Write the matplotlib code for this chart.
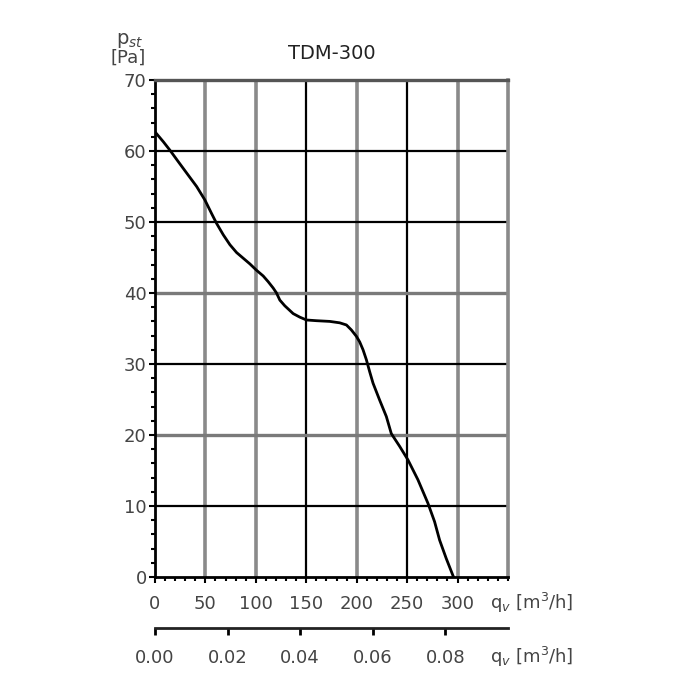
import matplotlib
matplotlib.use("Agg")
import matplotlib.pyplot as plt
from matplotlib.ticker import MultipleLocator, FixedLocator

plt.rcParams['font.family'] = ['DejaVu Sans']

title = "TDM-300"
flow_m3h = [0, 8.3, 14.9, 23.1, 31.4, 41.3, 49.5, 56.1, 61.1, 67.7, 74.3, 80.9,
            87.5, 94.1, 100.7, 107.3, 112.2, 117.2, 120.5, 123.8, 128.7, 137.0,
            143.6, 150.2, 160.1, 173.3, 183.2, 189.8, 194.7, 199.7, 203.0, 206.3,
            209.6, 212.9, 216.2, 222.8, 229.4, 234.3, 242.6, 250.8, 260.7, 270.6,
            277.2, 282.2, 288.8, 296.0]
pressure_pa = [62.7, 61.3, 60.1, 58.5, 56.9, 55.0, 53.1, 51.2, 49.8, 48.2, 46.8,
               45.7, 44.9, 44.1, 43.2, 42.4, 41.6, 40.7, 40.0, 39.0, 38.2, 37.1,
               36.6, 36.2, 36.1, 36.0, 35.8, 35.5, 34.8, 33.9, 33.1, 32.0, 30.6,
               28.9, 27.3, 24.9, 22.6, 20.2, 18.4, 16.5, 13.7, 10.4, 7.8, 5.2,
               2.6, 0.0]
x_ticks = [0, 50, 100, 150, 200, 250, 300]
y_ticks = [0, 10, 20, 30, 40, 50, 60, 70]
x2_ticks = [0.00, 0.02, 0.04, 0.06, 0.08]
x2_labels = ["0.00", "0.02", "0.04", "0.06", "0.08"]
gray_x = [50, 100, 200, 300]
gray_y = [20, 40]

txt = '#444444'
fig = plt.figure(figsize=(7, 7), dpi=100)
ax = fig.add_axes([0.2214, 0.1757, 0.5043, 0.71])
ax.set_xlim(0, 350)
ax.set_ylim(0, 70)

for xv in x_ticks[1:]:
    if xv in gray_x:
        ax.axvline(xv, color='#8a8a8a', lw=2.6, zorder=1)
    else:
        ax.axvline(xv, color='black', lw=1.6, zorder=1)
for yv in y_ticks[1:-1]:
    if yv in gray_y:
        ax.axhline(yv, color='#7a7a7a', lw=2.4, zorder=1)
    else:
        ax.axhline(yv, color='black', lw=1.6, zorder=1)

ax.plot(flow_m3h, pressure_pa, color='black', lw=2.0, zorder=3,
        solid_joinstyle='round')

for s in ['left', 'bottom']:
    ax.spines[s].set_linewidth(2.0)
    ax.spines[s].set_color('black')
ax.spines['top'].set_linewidth(2.4)
ax.spines['top'].set_color('#555555')
ax.spines['right'].set_linewidth(2.6)
ax.spines['right'].set_color('#8a8a8a')

ax.xaxis.set_major_locator(FixedLocator(x_ticks))
ax.yaxis.set_major_locator(FixedLocator(y_ticks))
ax.xaxis.set_minor_locator(MultipleLocator(10))
ax.yaxis.set_minor_locator(MultipleLocator(2))
ax.tick_params(axis='x', which='major', direction='out', length=4, width=1.5,
               pad=9, labelsize=13, labelcolor=txt)
ax.tick_params(axis='y', which='major', direction='out', length=4, width=1.5,
               pad=2, labelsize=13, labelcolor=txt)
ax.tick_params(which='minor', direction='out', length=3, width=1.5)

ax.text(0.5, 1.035, title, transform=ax.transAxes, ha='center', va='bottom',
        fontsize=14, color='#222222')
fig.text(130/700, 1-40/700, r'p$_{st}$', ha='center', va='center',
         fontsize=14, color=txt)
fig.text(128/700, 1-58/700, '[Pa]', ha='center', va='center',
         fontsize=13, color=txt)

fig.text(490/700, 1-603/700, r'q$_v$ [m$^3$/h]', ha='left', va='center',
         fontsize=13, color=txt)
fig.text(490/700, 1-657/700, r'q$_v$ [m$^3$/h]', ha='left', va='center',
         fontsize=13, color=txt)

ax2 = fig.add_axes([0.2214, 0.1029, 0.5043, 0.001])
ax2.set_xlim(0, 350/3600)
for s in ['left', 'right', 'top']:
    ax2.spines[s].set_visible(False)
ax2.spines['bottom'].set_linewidth(2.0)
ax2.spines['bottom'].set_color('#222222')
ax2.set_yticks([])
ax2.set_xticks(x2_ticks)
ax2.set_xticklabels(x2_labels)
ax2.tick_params(axis='x', direction='out', length=5, width=2, pad=10,
                labelsize=13, labelcolor=txt)
ax2.patch.set_visible(False)

fig.savefig('out.png', dpi=100, facecolor='white')
